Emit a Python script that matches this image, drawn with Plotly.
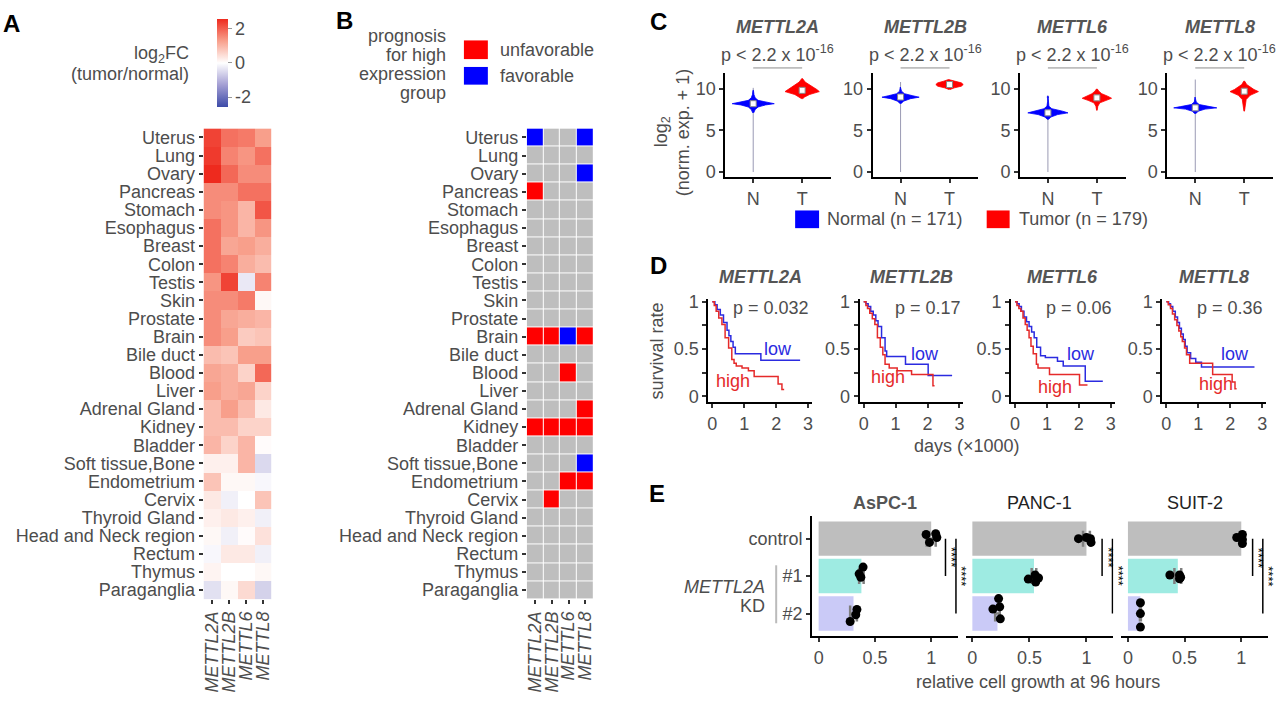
import plotly.graph_objects as go

W, H = 1280, 702
def px(x): return x / W
def py(y): return 1 - y / H

FONT = "Liberation Sans, Arial, sans-serif"
TXT = "#4D4D4D"
TITLE = "#555555"

# ---------------- data ----------------
tissues = ["Uterus", "Lung", "Ovary", "Pancreas", "Stomach", "Esophagus", "Breast", "Colon",
           "Testis", "Skin", "Prostate", "Brain", "Bile duct", "Blood", "Liver", "Adrenal Gland",
           "Kidney", "Bladder", "Soft tissue,Bone", "Endometrium", "Cervix", "Thyroid Gland",
           "Head and Neck region", "Rectum", "Thymus", "Paraganglia"]
genes = ["METTL2A", "METTL2B", "METTL6", "METTL8"]

log2fc_METTL2A = [2.3, 2.4, 2.6, 1.5, 1.5, 1.8, 1.8, 1.8, 1.4, 1.5, 1.5, 1.5, 0.9, 1.2, 1.3, 0.9, 0.9, 1.0, 0.2, 0.8, 0.3, 0.2, 0.1, -0.1, 0.15, -0.4]
log2fc_METTL2B = [1.8, 1.6, 1.9, 1.5, 1.4, 1.4, 1.2, 1.6, 2.3, 1.5, 1.2, 1.3, 0.8, 1.1, 1.1, 1.3, 0.9, 0.6, 0.2, 0.1, -0.2, 0.3, -0.2, 0.3, 0.0, 0.1]
log2fc_METTL6 = [1.7, 1.4, 1.5, 1.8, 1.0, 1.0, 1.3, 1.1, -0.3, 1.7, 1.1, 0.7, 1.3, 0.6, 1.2, 0.9, 0.6, 1.0, 1.0, 0.1, 0.0, 0.2, 0.05, 0.3, 0.0, 0.5]
log2fc_METTL8 = [1.3, 1.8, 1.5, 1.8, 2.1, 1.4, 1.1, 0.9, 1.6, 0.1, 1.0, 0.8, 1.3, 1.9, 0.6, 0.3, 0.6, 0.05, -0.5, -0.1, 0.8, -0.2, 0.4, -0.2, 0.1, -0.6]

# prognosis: 1 = unfavorable, -1 = favorable, 0 = none
prog_METTL2A = [-1, 0, 0, 1, 0, 0, 0, 0, 0, 0, 0, 1, 0, 0, 0, 0, 1, 0, 0, 0, 0, 0, 0, 0, 0, 0]
prog_METTL2B = [0, 0, 0, 0, 0, 0, 0, 0, 0, 0, 0, 1, 0, 0, 0, 0, 1, 0, 0, 0, 1, 0, 0, 0, 0, 0]
prog_METTL6 = [0, 0, 0, 0, 0, 0, 0, 0, 0, 0, 0, -1, 0, 1, 0, 0, 1, 0, 0, 1, 0, 0, 0, 0, 0, 0]
prog_METTL8 = [-1, 0, -1, 0, 0, 0, 0, 0, 0, 0, 0, 1, 0, 0, 0, 1, 1, 0, -1, 1, 0, 0, 0, 0, 0, 0]

# C: violin profiles (log2 values, half-widths)
normal_median = [8.2, 9.0, 7.1, 7.7]
tumor_median = [9.8, 10.5, 8.9, 9.7]
normal_min = [0, 0, 0, 0]
normal_max = [10.1, 10.8, 9.2, 11.1]
tumor_min = [8.8, 9.9, 7.4, 7.3]
tumor_max = [11.2, 11.0, 9.95, 10.9]
normal_prof_y = [[7.1, 7.5, 7.8, 8.05, 8.2, 8.35, 8.6, 8.9, 9.3, 9.8],
                 [8.2, 8.5, 8.8, 8.98, 9.15, 9.4, 9.7, 10.2],
                 [6.3, 6.6, 6.9, 7.1, 7.3, 7.6, 7.9, 8.5, 8.9, 9.0, 9.1],
                 [7.0, 7.3, 7.55, 7.7, 7.85, 8.1, 8.4, 9.0]]
normal_prof_w = [[0.01, 0.04, 0.1, 0.25, 0.43, 0.28, 0.1, 0.04, 0.015, 0.005],
                 [0.01, 0.06, 0.2, 0.38, 0.25, 0.08, 0.02, 0.005],
                 [0.01, 0.06, 0.2, 0.41, 0.3, 0.08, 0.02, 0.005, 0.005, 0.02, 0.005],
                 [0.01, 0.06, 0.2, 0.44, 0.3, 0.08, 0.02, 0.005]]
tumor_prof_y = [[8.8, 9.0, 9.3, 9.65, 9.9, 10.2, 10.5, 10.8, 11.2],
                [9.9, 10.1, 10.3, 10.5, 10.7, 10.9, 11.1],
                [7.4, 7.9, 8.3, 8.6, 8.85, 9.1, 9.4, 9.7, 9.95],
                [7.3, 8.0, 8.7, 9.2, 9.5, 9.65, 9.9, 10.2, 10.5, 10.9]]
tumor_prof_w = [[0.01, 0.05, 0.15, 0.35, 0.3, 0.22, 0.14, 0.06, 0.01],
                [0.01, 0.1, 0.24, 0.28, 0.24, 0.12, 0.02],
                [0.005, 0.02, 0.06, 0.18, 0.3, 0.22, 0.1, 0.04, 0.01],
                [0.005, 0.015, 0.04, 0.12, 0.22, 0.29, 0.2, 0.12, 0.05, 0.01]]

# D: Kaplan-Meier (days x1000, survival)
km_low_t = [[0, 0.08, 0.15, 0.25, 0.35, 0.46, 0.52, 0.58, 0.65, 0.72, 1.52, 2.75],
            [0, 0.07, 0.14, 0.22, 0.3, 0.38, 0.45, 0.56, 0.67, 0.72, 1.31, 2.02, 2.77],
            [0, 0.07, 0.13, 0.2, 0.28, 0.36, 0.44, 0.52, 0.6, 0.68, 0.8, 0.95, 1.33, 1.51, 2.2, 2.75],
            [0, 0.07, 0.13, 0.2, 0.28, 0.35, 0.41, 0.47, 0.53, 0.59, 0.65, 0.76, 0.92, 1.1, 2.76]]
km_low_s = [[1, 0.97, 0.92, 0.86, 0.78, 0.70, 0.64, 0.58, 0.52, 0.45, 0.38, 0.38],
            [1, 0.98, 0.95, 0.9, 0.86, 0.8, 0.74, 0.62, 0.48, 0.42, 0.34, 0.22, 0.22],
            [1, 0.98, 0.95, 0.9, 0.84, 0.79, 0.74, 0.68, 0.62, 0.52, 0.43, 0.41, 0.37, 0.32, 0.16, 0.16],
            [1, 0.98, 0.95, 0.9, 0.84, 0.78, 0.72, 0.66, 0.6, 0.53, 0.46, 0.40, 0.36, 0.31, 0.31]]
km_high_t = [[0, 0.06, 0.12, 0.2, 0.3, 0.4, 0.51, 0.61, 0.68, 0.75, 0.93, 1.13, 1.31, 2.06, 2.18, 2.25],
             [0, 0.07, 0.12, 0.19, 0.27, 0.35, 0.43, 0.52, 0.6, 0.67, 0.8, 1.05, 1.5, 2.17, 2.22],
             [0, 0.06, 0.12, 0.18, 0.25, 0.32, 0.38, 0.44, 0.5, 0.57, 0.67, 0.72, 1.08, 2.02, 2.27],
             [0, 0.06, 0.13, 0.19, 0.26, 0.33, 0.39, 0.45, 0.5, 0.57, 0.63, 0.73, 1.45, 2.06, 2.15, 2.2]]
km_high_s = [[1, 0.96, 0.9, 0.83, 0.76, 0.62, 0.51, 0.39, 0.35, 0.32, 0.30, 0.27, 0.21, 0.13, 0.07, 0.07],
             [1, 0.96, 0.93, 0.88, 0.82, 0.76, 0.62, 0.52, 0.44, 0.34, 0.30, 0.27, 0.23, 0.11, 0.11],
             [1, 0.96, 0.93, 0.9, 0.83, 0.76, 0.7, 0.62, 0.53, 0.45, 0.34, 0.3, 0.23, 0.12, 0.12],
             [1, 0.97, 0.93, 0.87, 0.81, 0.75, 0.69, 0.63, 0.58, 0.51, 0.44, 0.35, 0.23, 0.15, 0.08, 0.08]]
km_pvalues = ["p = 0.032", "p = 0.17", "p = 0.06", "p = 0.36"]
low_label_xy = [(2.05, 0.50), (1.92, 0.45), (2.07, 0.45), (2.16, 0.45)]
high_label_xy = [(0.65, 0.16), (0.75, 0.20), (1.26, 0.10), (1.54, 0.13)]

# E: relative cell growth
cells = ["AsPC-1", "PANC-1", "SUIT-2"]
groups = ["control", "#1", "#2"]
growth_mean = [[1.0, 0.38, 0.31], [1.0, 0.54, 0.22], [1.0, 0.44, 0.11]]
growth_sd = [[0.04, 0.02, 0.03], [0.03, 0.02, 0.02], [0.01, 0.03, 0.004]]
growth_pts = [[[0.955, 1.04, 1.05, 0.985], [0.395, 0.36, 0.375], [0.34, 0.33, 0.28]],
              [[0.93, 1.0, 1.035, 1.04], [0.49, 0.55, 0.58, 0.555], [0.23, 0.18, 0.24, 0.245]],
              [[0.96, 1.01, 1.01, 1.01], [0.37, 0.455, 0.465, 0.455], [0.11, 0.11, 0.11]]]
growth_jit = [[[-0.11, -0.13, -0.03, 0.1], [-0.24, -0.06, 0.03], [-0.11, 0.03, 0.21]],
              [[0.0, -0.03, 0.0, 0.1], [0.08, -0.03, 0.05, 0.16], [-0.4, -0.12, -0.18, 0.14]],
              [[-0.03, -0.11, 0.02, 0.13], [-0.03, -0.03, 0.03, 0.07], [-0.29, 0.0, 0.36]]]
bar_colors = ["#BEBEBE", "#9EEBE2", "#CACAF7"]
sig_short_x = [1.127, 1.137, 1.10]
sig_long_x = [1.22, 1.228, 1.19]

# ---------------- figure ----------------
fig = go.Figure()
layout = dict(width=W, height=H, margin=dict(l=0, r=0, t=0, b=0),
              paper_bgcolor="white", plot_bgcolor="white", showlegend=False,
              font=dict(family=FONT, size=18, color=TXT))
annotations, shapes = [], []

def ann(x, y, text, size=18, color=TXT, xanchor="center", yanchor="middle", angle=0, **kw):
    annotations.append(dict(x=px(x), y=py(y), xref="paper", yref="paper", text=text, showarrow=False,
                            font=dict(size=size, color=color, family=FONT), xanchor=xanchor,
                            yanchor=yanchor, textangle=angle, **kw))

def rect(x0, y0, x1, y1, color):
    shapes.append(dict(type="rect", xref="paper", yref="paper", x0=px(x0), x1=px(x1),
                       y0=py(y1), y1=py(y0), fillcolor=color, line=dict(width=0)))

# A heatmap
zA = [[log2fc_METTL2A[i], log2fc_METTL2B[i], log2fc_METTL6[i], log2fc_METTL8[i]] for i in range(len(tissues))]
fig.add_trace(go.Heatmap(
    z=zA, x=genes, y=tissues, xaxis="x", yaxis="y", zmin=-2.57, zmax=2.57,
    colorscale=[[0, "#3D4BA8"], [0.25, "#A39ED3"], [0.5, "#FFFFFF"], [0.75, "#F8A08C"], [1, "#EE2A1E"]],
    colorbar=dict(x=px(216), xanchor="left", y=py(12), yanchor="top", len=90 / H, lenmode="fraction",
                  thickness=11, xpad=0, ypad=0, outlinewidth=0, ticks="outside", ticklen=4,
                  tickcolor="#999999", tickvals=[-2, 0, 2], ticktext=["-2", "0", "2"],
                  tickfont=dict(size=18, color=TXT, family=FONT)),
    hoverinfo="skip"))

# B heatmap
zB = [[prog_METTL2A[i], prog_METTL2B[i], prog_METTL6[i], prog_METTL8[i]] for i in range(len(tissues))]
fig.add_trace(go.Heatmap(
    z=zB, x=genes, y=tissues, xaxis="x2", yaxis="y2", zmin=-1, zmax=1, showscale=False,
    colorscale=[[0, "#0000FF"], [0.333, "#0000FF"], [0.333, "#BEBEBE"], [0.667, "#BEBEBE"],
                [0.667, "#FF0000"], [1, "#FF0000"]], xgap=1, ygap=1, hoverinfo="skip"))

gene_ticktext = ["<i>%s</i>" % g for g in genes]
tick_common = dict(ticks="outside", ticklen=4, tickwidth=1.5, tickcolor="#333333",
                   showgrid=False, zeroline=False, tickfont=dict(size=18, color=TXT, family=FONT))
for ax, (x0, x1) in (("", (202, 270)), ("2", (526, 593))):
    layout["xaxis" + ax] = dict(domain=[px(x0), px(x1)], anchor="y" + ax, tickmode="array", tickvals=genes,
                                ticktext=gene_ticktext, tickangle=-90, showline=False, **tick_common)
    layout["yaxis" + ax] = dict(domain=[py(602.5), py(123.5)], anchor="x" + ax, autorange="reversed",
                                tickmode="array", tickvals=tissues, ticktext=tissues,
                                showline=False, **tick_common)

# A / B legends and labels
ann(10, 17, "<b>A</b>", size=24, color="black")
ann(343, 14, "<b>B</b>", size=24, color="black")
ann(189, 48, "log<sub>2</sub>FC", xanchor="right")
ann(189, 68, "(tumor/normal)", xanchor="right")
for i, line in enumerate(["prognosis", "for high", "expression", "group"]):
    ann(447, 30 + 19 * i, line, xanchor="right")
rect(463, 34, 487, 53, "#FF0000")
rect(463, 61, 487, 79, "#0000FF")
ann(497, 44, "unfavorable", xanchor="left")
ann(497, 70, "favorable", xanchor="left")

# C violins
axis_line = dict(showline=True, linecolor="black", linewidth=2)
for i, g in enumerate(genes):
    n = 3 + i
    xs, ys = "x%d" % n, "y%d" % n
    x0 = 725 + 147.7 * i
    layout["xaxis%d" % n] = dict(domain=[px(x0), px(x0 + 106)], anchor=ys, range=[-0.57, 1.59],
                                 tickvals=[0, 1], ticktext=["N", "T"], **axis_line, **tick_common)
    layout["yaxis%d" % n] = dict(domain=[py(173), py(67)], anchor=xs, range=[-0.6, 11.9],
                                 tickvals=[0, 5, 10], **axis_line, **tick_common)
    for c, col, vmin, vmax, prof_y, prof_w, med in (
            (0, "#0000FF", normal_min[i], normal_max[i], normal_prof_y[i], normal_prof_w[i], normal_median[i]),
            (1, "#FF0000", tumor_min[i], tumor_max[i], tumor_prof_y[i], tumor_prof_w[i], tumor_median[i])):
        fig.add_trace(go.Scatter(x=[c, c], y=[vmin, vmax], mode="lines", xaxis=xs, yaxis=ys,
                                 line=dict(color="#9A9AB4" if c == 0 else "#E07070", width=1), hoverinfo="skip"))
        vx = [c + w for w in prof_w] + [c - w for w in reversed(prof_w)]
        vy = list(prof_y) + list(reversed(prof_y))
        fig.add_trace(go.Scatter(x=vx, y=vy, mode="lines", fill="toself", fillcolor=col,
                                 line=dict(color=col, width=0.8), xaxis=xs, yaxis=ys, hoverinfo="skip"))
        fig.add_trace(go.Scatter(x=[c], y=[med], mode="markers", xaxis=xs, yaxis=ys, hoverinfo="skip",
                                 marker=dict(symbol="square", size=6, color="white",
                                             line=dict(color="#888888", width=1))))
    shapes.append(dict(type="line", xref=xs, yref="paper", x0=0, x1=1, y0=py(62), y1=py(62),
                       line=dict(color="#8C8C8C", width=1)))
    cx = x0 + 28 + 24.5
    ann(cx, 20, "<b><i>%s</i></b>" % g, color=TITLE)
    ann(cx, 47, "p < 2.2 x 10<sup>-16</sup>")

ann(658, 15, "<b>C</b>", size=24, color="black")
ann(662, 127, "log<sub>2</sub>", angle=-90)
ann(682, 127, "(norm. exp. + 1)", angle=-90)
rect(795, 207, 819, 225, "#0000FF")
ann(825, 216, "Normal (n = 171)", xanchor="left")
rect(987, 207, 1010, 225, "#FF0000")
ann(1017, 216, "Tumor (n = 179)", xanchor="left")

# D survival
KM_BLUE, KM_RED = "#2B2BE0", "#E52A2A"
for i, g in enumerate(genes):
    n = 7 + i
    xs, ys = "x%d" % n, "y%d" % n
    x0 = 708 + 151.7 * i
    layout["xaxis%d" % n] = dict(domain=[px(x0), px(x0 + 104)], anchor=ys, range=[-0.125, 3.125],
                                 tickvals=[0, 1, 2, 3], **axis_line, **tick_common)
    layout["yaxis%d" % n] = dict(domain=[py(402), py(297)], anchor=xs, range=[-0.0625, 1.031],
                                 tickvals=[0, 0.5, 1], ticktext=["0", "0.5", "1"],
                                 minor=dict(tickvals=[0.25, 0.75], ticks="outside", ticklen=4,
                                            tickwidth=1.5, tickcolor="#333333", showgrid=False),
                                 **axis_line, **tick_common)
    fig.add_trace(go.Scatter(x=km_low_t[i], y=km_low_s[i], mode="lines", line_shape="hv",
                             line=dict(color=KM_BLUE, width=1.5), xaxis=xs, yaxis=ys, hoverinfo="skip"))
    fig.add_trace(go.Scatter(x=km_high_t[i], y=km_high_s[i], mode="lines", line_shape="hv",
                             line=dict(color=KM_RED, width=1.5), xaxis=xs, yaxis=ys, hoverinfo="skip"))
    annotations.append(dict(x=3.1, y=0.94, xref=xs, yref=ys, text=km_pvalues[i], showarrow=False,
                            xanchor="right", font=dict(size=18, color=TXT, family=FONT)))
    annotations.append(dict(x=low_label_xy[i][0], y=low_label_xy[i][1], xref=xs, yref=ys, text="low",
                            showarrow=False, font=dict(size=18, color=KM_BLUE, family=FONT)))
    annotations.append(dict(x=high_label_xy[i][0], y=high_label_xy[i][1], xref=xs, yref=ys, text="high",
                            showarrow=False, font=dict(size=18, color=KM_RED, family=FONT)))
    ann(x0 + 4 + 48, 275, "<b><i>%s</i></b>" % g, color=TITLE)

ann(658, 263, "<b>D</b>", size=24, color="black")
ann(657, 350, "survival rate", angle=-90)
ann(967, 447, "days (×1000)")

# E bars
E_RANGE = [-0.058, 1.236]
e_domains = [(812, 958), (966, 1114), (1122, 1269)]
for k, cell in enumerate(cells):
    n = 11 + k
    xs, ys = "x%d" % n, "y%d" % n
    d0, d1 = e_domains[k]
    layout["xaxis%d" % n] = dict(domain=[px(d0), px(d1)], anchor=ys, range=E_RANGE,
                                 tickvals=[0, 0.5, 1], ticktext=["0", "0.5", "1"], **axis_line, **tick_common)
    if k == 0:
        yax = dict(domain=[py(640), py(518)], anchor=xs, range=[2.6, -0.6], tickvals=[0, 1, 2],
                   ticktext=groups, **axis_line, **tick_common)
    else:
        yax = dict(domain=[py(640), py(518)], anchor=xs, range=[2.6, -0.6], tickvals=[],
                   showticklabels=False, ticks="", showline=False, showgrid=False, zeroline=False)
    layout["yaxis%d" % n] = yax
    fig.add_trace(go.Bar(x=growth_mean[k], y=[0, 1, 2], orientation="h", width=0.92,
                         marker=dict(color=bar_colors, line=dict(width=0)), xaxis=xs, yaxis=ys,
                         error_x=dict(type="data", array=growth_sd[k], color="#7F7F7F", thickness=2.5, width=8),
                         hoverinfo="skip"))
    for gi in range(3):
        fig.add_trace(go.Scatter(x=growth_pts[k][gi], y=[gi + j for j in growth_jit[k][gi]], mode="markers",
                                 marker=dict(color="black", size=9), xaxis=xs, yaxis=ys, hoverinfo="skip"))
    shapes.append(dict(type="line", xref=xs, yref=ys, x0=sig_short_x[k], x1=sig_short_x[k], y0=0, y1=1,
                       line=dict(color="black", width=1.5)))
    shapes.append(dict(type="line", xref=xs, yref=ys, x0=sig_long_x[k], x1=sig_long_x[k], y0=0, y1=2,
                       line=dict(color="black", width=1.5)))
    # star labels placed in paper space (they sit just outside the axis range)
    to_px = lambda v: d0 + (v - E_RANGE[0]) / (E_RANGE[1] - E_RANGE[0]) * (d1 - d0)
    for sx, sy in ((sig_short_x[k], 560), (sig_long_x[k], 579)):
        ann(to_px(sx) + 6, sy, "****", size=13, color="black", angle=90)
    title = "<b>%s</b>" % cell if k == 0 else cell
    ann((d0 + d1) / 2, 505, title, color=TITLE if k == 0 else "#222222")

ann(657, 495, "<b>E</b>", size=24, color="black")
ann(767, 590, "<i>METTL2A</i>", xanchor="right")
ann(767, 609, "KD", xanchor="right")
shapes.append(dict(type="line", xref="paper", yref="paper", x0=px(776), x1=px(776), y0=py(568), y1=py(627),
                   line=dict(color="#BBBBBB", width=2)))
ann(1038, 687, "relative cell growth at 96 hours")

layout["annotations"] = annotations
layout["shapes"] = shapes
fig.update_layout(**layout)
fig.write_html("out.html")
